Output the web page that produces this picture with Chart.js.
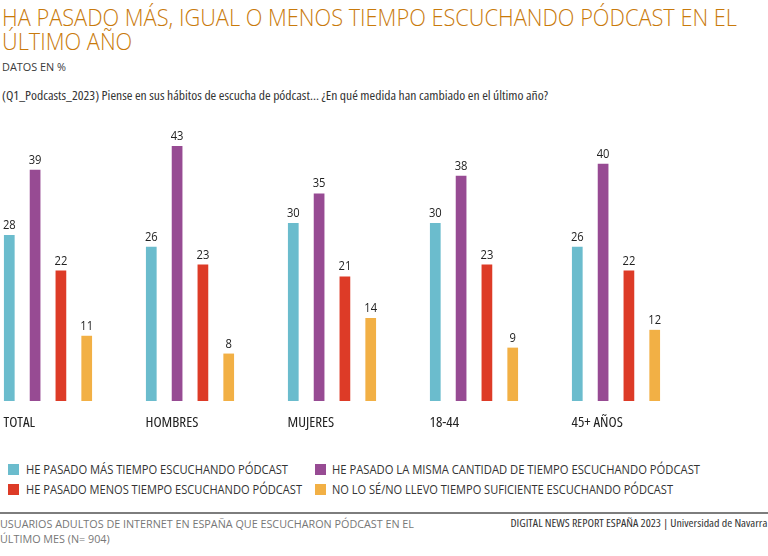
<!DOCTYPE html>
<html lang="es">
<head>
<meta charset="utf-8">
<script src="https://cdn.jsdelivr.net/npm/chart.js@4.4.1/dist/chart.umd.min.js"></script>
<style>
  html, body { margin: 0; padding: 0; background: #ffffff; }
  body { width: 768px; height: 556px; position: relative; overflow: hidden; font-family: 'Open Sans', 'Noto Sans', sans-serif; }
  .abs { position: absolute; white-space: nowrap; }
  #title { left: 2px; top: 5px; font-size: 24px; line-height: 24px; font-weight: 300; color: #c97a0b; font-stretch: 95%; }
  #sub { left: 2px; top: 60px; font-size: 11px; line-height: 13px; color: #3a3a3a; font-stretch: 100%; }
  #question { left: 2px; top: 89px; font-size: 12px; line-height: 14px; color: #333; font-stretch: 85%; }
  #chartBox { position: absolute; left: 0; top: 100px; width: 768px; height: 331px; }
  .leg { position: absolute; height: 14px; }
  .leg .sw { position: absolute; left: 0; top: 1px; width: 11px; height: 11px; }
  .leg .tx { position: absolute; top: -1px; font-size: 12.5px; line-height: 15px; color: #333; white-space: nowrap; font-stretch: 92%; }
  #rule { position: absolute; left: 0; top: 512px; width: 768px; height: 2px; background: #7d7d7d; }
  #footL { left: 0; top: 516px; font-size: 11.5px; line-height: 15px; color: #777; font-stretch: 96%; }
  #footR { right: 1px; top: 517px; font-size: 10.5px; line-height: 13px; color: #333; font-stretch: 85%; }
</style>
</head>
<body>
<div id="title" class="abs"><span id="t1">HA PASADO MÁS, IGUAL O MENOS TIEMPO ESCUCHANDO PÓDCAST EN EL</span><br><span>ÚLTIMO AÑO</span></div>
<div id="sub" class="abs">DATOS EN %</div>
<div id="question" class="abs">(Q1_Podcasts_2023) Piense en sus hábitos de escucha de pódcast... ¿En qué medida han cambiado en el último año?</div>
<div id="chartBox"><canvas id="c" width="768" height="331"></canvas></div>
<div id="legend"></div>
<div id="rule"></div>
<div id="footL" class="abs"><span id="f1">USUARIOS ADULTOS DE INTERNET EN ESPAÑA QUE ESCUCHARON PÓDCAST EN EL</span><br>ÚLTIMO MES (N= 904)</div>
<div id="footR" class="abs">DIGITAL NEWS REPORT ESPAÑA 2023 | Universidad de Navarra</div>
<script>
// ---- data ----
const categories = ['TOTAL', 'HOMBRES', 'MUJERES', '18-44', '45+ AÑOS'];
const seriesNames = [
  'HE PASADO MÁS TIEMPO ESCUCHANDO PÓDCAST',
  'HE PASADO LA MISMA CANTIDAD DE TIEMPO ESCUCHANDO PÓDCAST',
  'HE PASADO MENOS TIEMPO ESCUCHANDO PÓDCAST',
  'NO LO SÉ/NO LLEVO TIEMPO SUFICIENTE ESCUCHANDO PÓDCAST'
];
const masTiempo = [28, 26, 30, 30, 26];
const mismaCantidad = [39, 43, 35, 38, 40];
const menosTiempo = [22, 23, 21, 23, 22];
const noLoSe = [11, 8, 14, 9, 12];
const seriesColors = ['#6bbccd', '#974b93', '#dd3b27', '#f2b045'];

const seriesValues = [masTiempo, mismaCantidad, menosTiempo, noLoSe];

const valueLabels = {
  id: 'valueLabels',
  afterDatasetsDraw(chart) {
    const ctx = chart.ctx;
    ctx.save();
    ctx.font = "400 13px 'Open Sans'";
    ctx.fillStyle = '#222';
    ctx.textAlign = 'center';
    ctx.textBaseline = 'alphabetic';
    chart.data.datasets.forEach((ds, i) => {
      const meta = chart.getDatasetMeta(i);
      meta.data.forEach((bar, j) => {
        ctx.save();
        ctx.translate(bar.x, bar.y - 6);
        ctx.scale(0.86, 1);
        ctx.fillText(String(ds.data[j]), 0, 0);
        ctx.restore();
      });
    });
    ctx.restore();
  }
};

const chart = new Chart(document.getElementById('c'), {
  type: 'bar',
  data: {
    labels: categories,
    datasets: seriesValues.map((vals, i) => ({
      label: seriesNames[i],
      data: vals,
      backgroundColor: seriesColors[i],
      borderWidth: 0,
      clip: false,
      categoryPercentage: 0.727,
      barPercentage: 0.415
    }))
  },
  options: {
    responsive: false,
    devicePixelRatio: 1,
    animation: false,
    layout: { padding: { left: 48, right: 152, top: 4.5, bottom: 0 } },
    plugins: { legend: { display: false }, tooltip: { enabled: false }, title: { display: false } },
    scales: {
      x: {
        offset: false,
        grid: { display: false, drawTicks: false },
        border: { display: false },
        ticks: {
          align: 'start',
          labelOffset: -44.5,
          padding: 13,
          autoSkip: false,
          maxRotation: 0,
          color: '#222',
          font: { family: "'Open Sans'", size: 15, weight: '400 condensed' }
        },
        afterFit(s) { s.height = 30; }
      },
      y: {
        display: false,
        min: 0,
        max: 50
      }
    }
  },
  plugins: [valueLabels]
});

// ---- HTML legend built from the chart's datasets ----
const legendPos = [
  { x: 8, y: 462.5, tx: 18, w: 262 },
  { x: 315, y: 462.5, tx: 17, w: 368 },
  { x: 8, y: 483, tx: 18, w: 276 },
  { x: 315, y: 483, tx: 17, w: 341 }
];
const legendEl = document.getElementById('legend');
chart.data.datasets.forEach((ds, i) => {
  const p = legendPos[i];
  const item = document.createElement('div');
  item.className = 'leg';
  item.style.left = p.x + 'px';
  item.style.top = p.y + 'px';
  item.innerHTML = '<span class="sw" style="background:' + ds.backgroundColor + '"></span><span class="tx" data-w="' + p.w + '" style="left:' + p.tx + 'px">' + ds.label + '</span>';
  legendEl.appendChild(item);
});

// ---- fit text widths to the reference layout ----
function fit(el, measureEl, target, origin) {
  const w = measureEl.getBoundingClientRect().width;
  if (w > 0) {
    el.style.transformOrigin = origin || '0 0';
    el.style.transform = 'scaleX(' + (target / w) + ')';
  }
}
fit(document.getElementById('title'), document.getElementById('t1'), 735);
fit(document.getElementById('sub'), document.getElementById('sub'), 64);
fit(document.getElementById('question'), document.getElementById('question'), 546);
fit(document.getElementById('footL'), document.getElementById('f1'), 414);
fit(document.getElementById('footR'), document.getElementById('footR'), 257, '100% 0');
document.querySelectorAll('.leg .tx').forEach((el) => fit(el, el, +el.dataset.w));
</script>
</body>
</html>
